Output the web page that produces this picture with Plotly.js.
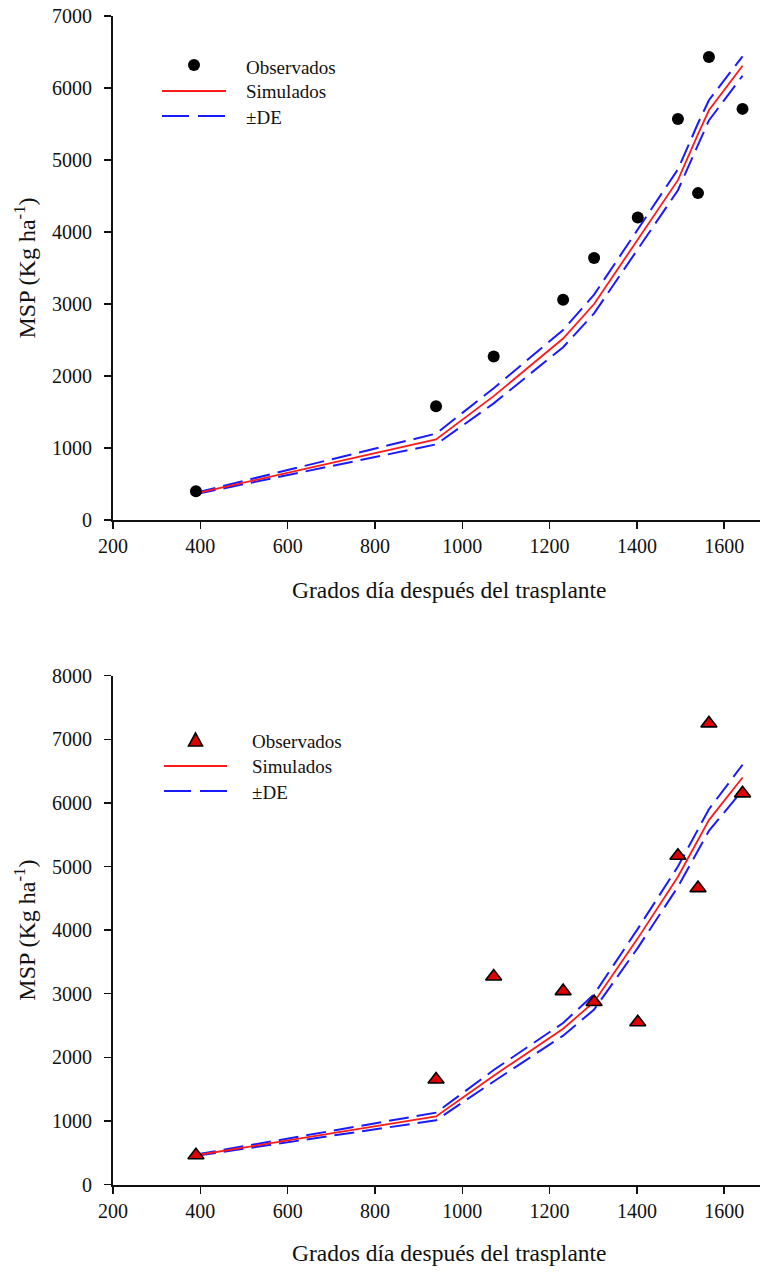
<!DOCTYPE html>
<html><head><meta charset="utf-8">
<script src="https://cdn.plot.ly/plotly-3.0.1.min.js"></script>
<style>html,body{margin:0;padding:0;background:#fff}#chart{width:767px;height:1273px}</style>
</head><body><div id="chart"></div>
<script>
// ---- data ----
const days = [390, 940, 1072, 1231, 1302, 1402, 1494, 1540, 1565, 1642];

const obsTop = [400, 1580, 2270, 3060, 3640, 4200, 5570, 4540, 6430, 5710];
const simTop = [370, 1120, 1720, 2520, 3000, 3900, 4720, 5360, 5690, 6310];
const upTop  = [380, 1200, 1830, 2640, 3130, 4040, 4870, 5510, 5830, 6440];
const lowTop = [360, 1050, 1620, 2400, 2870, 3760, 4580, 5210, 5550, 6170];

const obsBot = [460, 1650, 3270, 3040, 2870, 2550, 5170, 4660, 7250, 6150];
const simBot = [460, 1070, 1710, 2450, 2870, 3870, 4840, 5420, 5730, 6400];
const upBot  = [470, 1130, 1800, 2540, 2990, 4020, 5000, 5590, 5900, 6600];
const lowBot = [450, 1010, 1620, 2340, 2750, 3720, 4680, 5250, 5560, 6200];

const xTicks = [200, 400, 600, 800, 1000, 1200, 1400, 1600];
const yTicksTop = [0, 1000, 2000, 3000, 4000, 5000, 6000, 7000];
const yTicksBot = [0, 1000, 2000, 3000, 4000, 5000, 6000, 7000, 8000];
const legendLabels = ['Observados', 'Simulados', '±DE'];
const xTitle = 'Grados día después del trasplante';
const yTitle = 'MSP (Kg ha<sup>-1</sup>)';

// ---- layout helpers (pixel -> paper) ----
const W = 767, H = 1273, L = 113, R = 7;
const px = x => (x - L) / (W - L - R);
const py = y => (H - y) / H;
const FONT = 'Liberation Serif, Times New Roman, serif';
const INK = '#111';
const RED = '#ff1a1a';
const BLUE = '#1a1aff';
const DASH = '20px,8px';

function obsTrace(y, xa, ya, bottom) {
  return {x: days, y: y, xaxis: xa, yaxis: ya, mode: 'markers', type: 'scatter',
    marker: bottom ? {symbol: 'triangle-up', size: 14, color: '#e00000', line: {color: '#000', width: 1.6}}
                   : {symbol: 'circle', size: 12, color: '#000'},
    showlegend: false, cliponaxis: false};
}
function lineTrace(y, xa, ya, color, dash, w) {
  return {x: days, y: y, xaxis: xa, yaxis: ya, mode: 'lines', type: 'scatter',
    line: {color: color, width: w, dash: dash}, showlegend: false};
}

const traces = [
  lineTrace(upTop, 'x', 'y', BLUE, DASH, 2),
  lineTrace(lowTop, 'x', 'y', BLUE, DASH, 2),
  lineTrace(simTop, 'x', 'y', RED, 'solid', 1.8),
  obsTrace(obsTop, 'x', 'y', false),
  lineTrace(upBot, 'x2', 'y2', BLUE, DASH, 2),
  lineTrace(lowBot, 'x2', 'y2', BLUE, DASH, 2),
  lineTrace(simBot, 'x2', 'y2', RED, 'solid', 1.8),
  obsTrace(obsBot, 'x2', 'y2', true)
];

function xAxis(anchor) {
  return {anchor: anchor, domain: [0, 1], range: [200, 1682], tickvals: xTicks,
    showline: true, linecolor: INK, linewidth: 2, ticks: 'outside', ticklen: 7, tickwidth: 1.5,
    tickcolor: INK, showgrid: false, zeroline: false,
    tickfont: {family: FONT, size: 20, color: INK}};
}
function yAxis(anchor, domain, max, ticks) {
  return {anchor: anchor, domain: domain, range: [0, max], tickvals: ticks,
    showline: true, linecolor: INK, linewidth: 2, ticks: 'outside', ticklen: 7, tickwidth: 1.5,
    tickcolor: INK, showgrid: false, zeroline: false, ticklabelstandoff: 8,
    tickfont: {family: FONT, size: 20, color: INK},
    title: {text: yTitle, font: {family: FONT, size: 24, color: INK}, standoff: 10}};
}

// ---- manual legends and x titles ----
const shapes = [];
const annotations = [];
function addLegend(symY, redY, blueY, x0, x1, tx, ty, triangle) {
  const cx = (x0 + x1) / 2;
  if (triangle) {
    shapes.push({type: 'path', xref: 'paper', yref: 'paper',
      path: `M ${px(cx - 7)} ${py(symY + 6)} L ${px(cx + 7)} ${py(symY + 6)} L ${px(cx)} ${py(symY - 7)} Z`,
      fillcolor: '#e00000', line: {color: '#000', width: 1.6}});
  } else {
    shapes.push({type: 'circle', xref: 'paper', yref: 'paper',
      x0: px(cx - 6), x1: px(cx + 6), y0: py(symY + 6), y1: py(symY - 6),
      fillcolor: '#000', line: {color: '#000', width: 0}});
  }
  shapes.push({type: 'line', xref: 'paper', yref: 'paper', x0: px(x0), x1: px(x1), y0: py(redY), y1: py(redY),
    line: {color: RED, width: 2}});
  shapes.push({type: 'line', xref: 'paper', yref: 'paper', x0: px(x0), x1: px(x1), y0: py(blueY), y1: py(blueY),
    line: {color: BLUE, width: 2, dash: '27px,9px'}});
  [symY, redY, blueY].forEach((yy, i) => {
    annotations.push({xref: 'paper', yref: 'paper', x: px(tx), y: py(ty[i]), xanchor: 'left', yanchor: 'middle',
      text: legendLabels[i], showarrow: false, font: {family: FONT, size: 19, color: INK}});
  });
}
addLegend(65, 91, 116, 162, 226, 244, [67, 91, 117], false);
addLegend(740, 766, 791, 164, 227, 250, [741, 766, 792], true);

[590, 1253].forEach(ty => annotations.push({xref: 'paper', yref: 'paper', x: px(450), y: py(ty),
  xanchor: 'center', yanchor: 'middle', text: xTitle, showarrow: false,
  font: {family: FONT, size: 23.5, color: INK}}));

const layout = {
  width: W, height: H, margin: {l: L, r: R, t: 0, b: 0},
  paper_bgcolor: '#fff', plot_bgcolor: '#fff', showlegend: false,
  xaxis: xAxis('y'), yaxis: yAxis('x', [py(520), py(16)], 7000, yTicksTop),
  xaxis2: xAxis('y2'), yaxis2: yAxis('x2', [py(1184.5), py(675.7)], 8000, yTicksBot),
  shapes: shapes, annotations: annotations
};

Plotly.newPlot('chart', traces, layout, {displayModeBar: false, staticPlot: true});
</script>
</body></html>
